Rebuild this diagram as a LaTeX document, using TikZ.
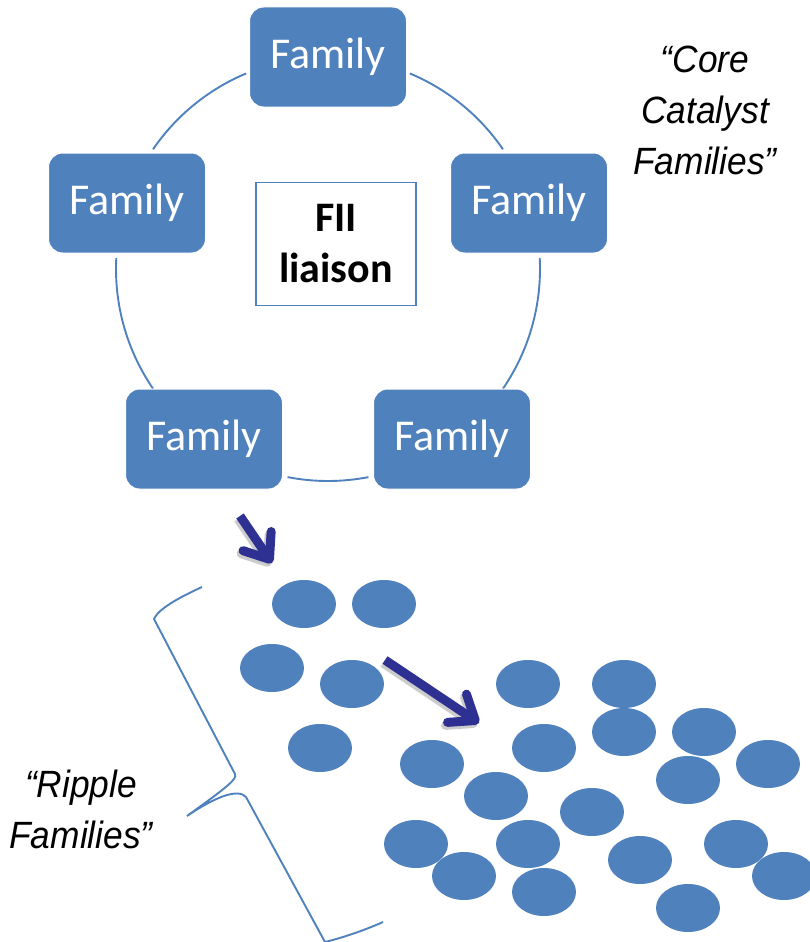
\documentclass[tikz,border=0pt]{standalone}
\usepackage{fontspec}
\setmainfont{Carlito}
\newfontfamily\notefont[FakeStretch=0.93]{Liberation Sans}
\usetikzlibrary{shapes.geometric,arrows.meta}
\definecolor{famblue}{HTML}{4F81BD}
\definecolor{navyblue}{HTML}{2E3192}

\begin{document}
\begin{tikzpicture}[x=1pt, y=-1pt, line width=1.5pt,
    family/.style={rectangle, rounded corners=14pt, fill=famblue, draw=white, line width=1pt, minimum width=157pt, minimum height=100pt, text=white, font=\fontsize{44}{52}\selectfont},
    liaison/.style={rectangle, draw=famblue, line width=1.6pt, fill=white, minimum width=160pt, minimum height=123pt, align=center, font=\bfseries\fontsize{42}{51}\selectfont},
    note/.style={align=center, inner sep=0pt, font=\notefont\itshape\fontsize{38}{51}\selectfont},
    ripple/.style={ellipse, fill=famblue, minimum width=64pt, minimum height=48pt, inner sep=0pt},
    ringline/.style={draw=famblue, line width=1.9pt},
    push/.style={draw=navyblue, line width=9pt, -{Straight Barb[length=22pt, width=34pt, round]}},
    pushshadow/.style={push, draw=black!20, transform canvas={shift={(-2pt,-3pt)}}}]

    \useasboundingbox (0,0) rectangle (810,942);

    % ring of core families
    \coordinate (hub) at (328,269);
    \draw[ringline] (hub) ++(-112.7:212) arc[start angle=-112.7, end angle=-145.6, radius=212];
    \draw[ringline] (hub) ++(-67.3:212) arc[start angle=-67.3, end angle=-34.4, radius=212];
    \draw[ringline] (hub) ++(-3:212) arc[start angle=-3, end angle=34.4, radius=212];
    \draw[ringline] (hub) ++(-177:212) arc[start angle=-177, end angle=-214.4, radius=212];
    \draw[ringline] (hub) ++(101:212) arc[start angle=101, end angle=79, radius=212];

    \node[family] (famtop) at (328,57) {Family};
    \node[family] (famleft) at (127,203) {Family};
    \node[family] (famright) at (529,203) {Family};
    \node[family] (fambl) at (204,439) {Family};
    \node[family] (fambr) at (452,439) {Family};
    \node[liaison] (fii) at (336,244) {FII\\liaison};

    \node[note] (core) at (705,110) {“Core\\Catalyst\\Families”};
    \node[note] (ripplenote) at (81,809) {“Ripple\\Families”};

    % bracket
    \draw[ringline] (202,587) .. controls (180,597) and (158,609) .. (154,619) -- (235,774)
        .. controls (237,779) and (230,785) .. (187,816)
        .. controls (215,797) and (238,788) .. (246,797) -- (325,942)
        .. controls (345,937) and (365,930) .. (383,922);

    % ripple families
    \foreach \x/\y [count=\k] in {304/604, 384/604, 272/668, 352/684, 320/748,
        528/684, 624/684, 544/748, 624/732, 704/732, 432/764, 768/764, 688/780,
        496/796, 592/812, 416/844, 528/844, 736/844, 464/876, 640/860, 784/876,
        544/892, 688/908}
        \node[ripple] (dot\k) at (\x,\y) {};

    % arrows
    \coordinate (pushA) at (240,516);
    \coordinate (pushB) at (272,563);
    \coordinate (pushC) at (385,660);
    \coordinate (pushD) at (479,723);
    \draw[pushshadow] (pushA) -- (pushB);
    \draw[pushshadow] (pushC) -- (pushD);
    \draw[push] (pushA) -- (pushB);
    \draw[push] (pushC) -- (pushD);

\end{tikzpicture}
\end{document}
